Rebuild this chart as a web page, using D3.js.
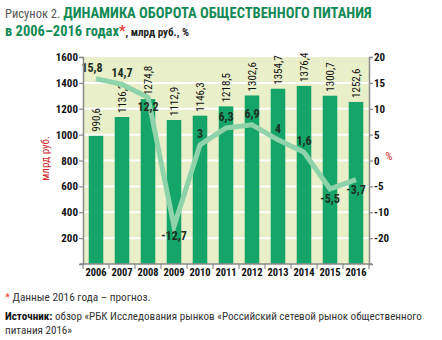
<!DOCTYPE html>
<html><head><meta charset="utf-8">
<script src="https://cdn.jsdelivr.net/npm/d3@7"></script>
<style>
html,body{margin:0;padding:0;background:#fff;}
svg{display:block;}
text{font-family:"Liberation Sans Narrow","Roboto Condensed","Arial Narrow","Liberation Sans",sans-serif;}
</style></head>
<body>
<svg id="chart" width="442" height="340"></svg>
<script>
const years = ["2006","2007","2008","2009","2010","2011","2012","2013","2014","2015","2016"];
const turnover = [990.6,1136.2,1274.8,1112.9,1146.3,1218.5,1302.6,1354.7,1376.4,1300.7,1252.6];
const growth = [15.8,14.7,12.2,-12.7,3,6.3,6.9,4,1.6,-5.5,-3.7];
const leftTicks = [200,400,600,800,1000,1200,1400,1600];
const rightTickValues = [20,15,10,5,0,-5,-10,-15];
const rightTickLabels = ["20","15","10","5","0","-5","-10","-20"];
const labelsBelow = ["2008","2009","2015","2016"];

const fmt = v => String(v).replace(".", ",");
const svg = d3.select("#chart");
const L = 83, R = 369, T = 57, B = 264;

const x = d3.scaleBand().domain(years).range([L, R]).paddingInner(0.44).paddingOuter(0.22);
const y = d3.scaleLinear().domain([0, 1600]).range([B, T]);
const y2 = d3.scaleLinear().domain([-20, 20]).range([B, T]);
const xc = d => x(d) + x.bandwidth() / 2;

// title
const t1 = svg.append("text").attr("x", 5).attr("y", 18);
t1.append("tspan").attr("fill", "#555").attr("font-size", 12.5).text("Рисунок 2. ");
t1.append("tspan").attr("fill", "#138a55").attr("font-size", 14.5).attr("font-weight", "bold").text("ДИНАМИКА ОБОРОТА ОБЩЕСТВЕННОГО ПИТАНИЯ");
const t2 = svg.append("text").attr("x", 5).attr("y", 36);
t2.append("tspan").attr("fill", "#138a55").attr("font-size", 14.5).attr("font-weight", "bold").text("в 2006–2016 годах");
t2.append("tspan").attr("fill", "#e8413c").attr("font-size", 14.5).attr("font-weight", "bold").text("*");
t2.append("tspan").attr("fill", "#222").attr("font-size", 11).attr("font-weight", "bold").text(", млрд руб., %");

// plot background
svg.append("rect").attr("x", L).attr("y", T).attr("width", R - L).attr("height", B - T).attr("fill", "#e9efc8");

// gridlines
svg.append("g").selectAll("line").data(leftTicks.slice(0, -1)).join("line")
  .attr("x1", L).attr("x2", R).attr("y1", d => y(d)).attr("y2", d => y(d))
  .attr("stroke", "#ffffff").attr("stroke-width", 2);

// bars
svg.append("g").selectAll("rect").data(years).join("rect")
  .attr("x", d => x(d)).attr("width", x.bandwidth())
  .attr("y", (d, i) => y(turnover[i])).attr("height", (d, i) => B - y(turnover[i]))
  .attr("fill", "#15a569");

// bar labels
svg.append("g").selectAll("text").data(years).join("text")
  .attr("transform", (d, i) => `translate(${xc(d) + 4},${y(turnover[i]) - 4}) rotate(-90)`)
  .attr("font-size", 11).attr("fill", "#111").text((d, i) => fmt(turnover[i]));

// line
const line = d3.line().x((d, i) => xc(years[i])).y(d => y2(d));
svg.append("path").datum(growth).attr("d", line).attr("fill", "none")
  .attr("stroke", "#8fd3ab").attr("stroke-width", 5).attr("stroke-linejoin", "miter");

// line labels
svg.append("g").selectAll("text").data(years).join("text")
  .attr("x", (d, i) => xc(d) + (i === 0 ? -4 : 0))
  .attr("y", (d, i) => labelsBelow.includes(d) ? y2(growth[i]) + 14 : y2(growth[i]) - 7)
  .attr("text-anchor", "middle").attr("font-size", 12).attr("font-weight", "bold")
  .attr("fill", "#1d2f22").text((d, i) => fmt(growth[i]));

// axes
const axisColor = "#8a8a8a";
const gl = svg.append("g").attr("transform", `translate(${L},0)`)
  .call(d3.axisLeft(y).tickValues([0, ...leftTicks]).tickSize(4).tickFormat(d => d === 0 ? "" : d));
const gr = svg.append("g").attr("transform", `translate(${R},0)`)
  .call(d3.axisRight(y2).tickValues(rightTickValues).tickSize(4).tickFormat((d, i) => rightTickLabels[i]));
[gl, gr].forEach(g => {
  g.select(".domain").attr("stroke", axisColor).attr("stroke-width", 1.5);
  g.selectAll(".tick line").attr("stroke", axisColor).attr("stroke-width", 1.2);
  g.selectAll(".tick text").attr("font-size", 11).attr("font-weight", "bold").attr("fill", "#111")
    .style("font-family", '"Liberation Sans Narrow","Roboto Condensed","Liberation Sans",sans-serif');
});
gr.selectAll(".tick text").attr("x", 5);
gl.selectAll(".tick text").attr("x", -5);

// x axis
const gx = svg.append("g");
gx.append("line").attr("x1", L - 3).attr("x2", R + 3).attr("y1", B).attr("y2", B)
  .attr("stroke", axisColor).attr("stroke-width", 1.5);
const step = x.step();
const seps = years.map((d, i) => x(d) - (step - x.bandwidth()) / 2).concat([x(years[10]) + x.bandwidth() + (step - x.bandwidth()) / 2]);
gx.selectAll("line.sep").data(seps).join("line").attr("class", "sep")
  .attr("x1", d => d).attr("x2", d => d).attr("y1", B).attr("y2", B + 5)
  .attr("stroke", axisColor).attr("stroke-width", 1.2);
gx.selectAll("text").data(years).join("text")
  .attr("x", d => xc(d)).attr("y", B + 12).attr("text-anchor", "middle")
  .attr("font-size", 10.5).attr("font-weight", "bold").attr("fill", "#111").text(d => d);

// axis titles
svg.append("text").attr("transform", `translate(49,${(T + B) / 2 - 2}) rotate(-90)`)
  .attr("text-anchor", "middle").attr("font-size", 11).attr("fill", "#d0262b").text("млрд руб.");
svg.append("text").attr("x", 389).attr("y", 160).attr("text-anchor", "middle")
  .attr("font-size", 11).attr("fill", "#d0262b").text("%");

// footnotes
const f1 = svg.append("text").attr("x", 5).attr("y", 301).attr("font-size", 11.3);
f1.append("tspan").attr("fill", "#e8413c").text("* ");
f1.append("tspan").attr("fill", "#333").text("Данные 2016 года – прогноз.");
const f2 = svg.append("text").attr("x", 5).attr("y", 320).attr("font-size", 11.1).attr("fill", "#333");
f2.append("tspan").attr("font-weight", "bold").attr("fill", "#111").text("Источник: ");
f2.append("tspan").text("обзор «РБК Исследования рынков «Российский сетевой рынок общественного");
svg.append("text").attr("x", 5).attr("y", 334).attr("font-size", 11.1).attr("fill", "#333").text("питания 2016»");
</script>
</body></html>
